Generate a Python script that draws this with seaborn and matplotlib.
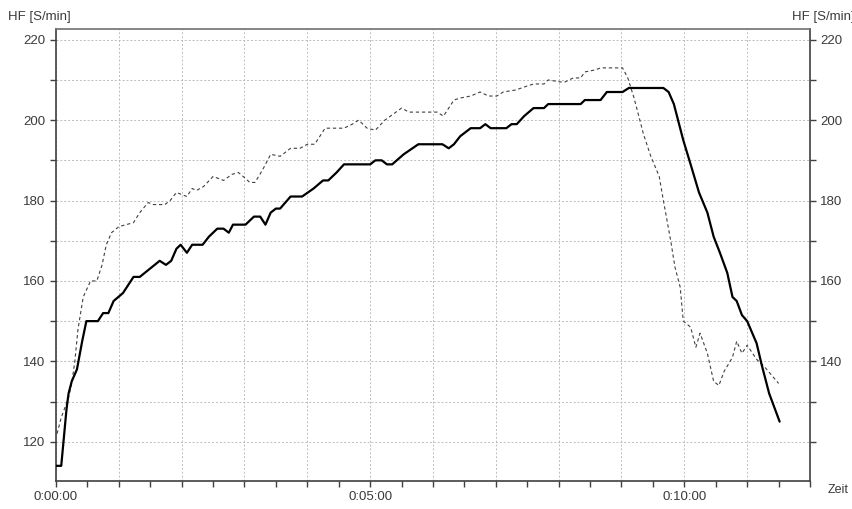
import pandas as pd
import seaborn as sns
import matplotlib.pyplot as plt
from matplotlib.ticker import MultipleLocator, FuncFormatter

# time in seconds, heart rate in S/min
hf_solid_t = [0, 5, 10, 12, 15, 20, 25, 29, 40, 45, 50, 55, 64, 74, 80, 99, 105, 110,
              115, 119, 125, 130, 140, 146, 154, 160, 165, 169, 181, 189, 195, 200, 205,
              210, 214, 224, 235, 246, 255, 260, 268, 275, 300, 305, 311, 316, 321, 332,
              346, 369, 375, 380, 386, 396, 405, 410, 415, 430, 435, 440, 447, 456, 466,
              470, 501, 505, 520, 526, 541, 547, 580, 585, 590, 595, 599, 606, 614, 622,
              628, 634, 641, 646, 650, 655, 660, 669, 674, 681, 691]
hf_solid = [114, 114, 128, 132, 135, 138, 145, 150, 150, 152, 152, 155, 157, 161, 161,
            165, 164, 165, 168, 169, 167, 169, 169, 171, 173, 173, 172, 174, 174, 176,
            176, 174, 177, 178, 178, 181, 181, 183, 185, 185, 187, 189, 189, 190, 190,
            189, 189, 191.5, 194, 194, 193, 194, 196, 198, 198, 199, 198, 198, 199, 199,
            201, 203, 203, 204, 204, 205, 205, 207, 207, 208, 208, 207, 204, 199, 195,
            189, 182, 177, 171, 167, 162, 156, 155, 151.5, 150, 144.5, 139, 132, 125]

hf_dashed_t = [1, 5, 12, 15, 18, 21, 26, 33, 39, 44, 48, 53, 60, 74, 80, 88, 93, 104,
               109, 115, 120, 125, 130, 134, 141, 150, 160, 168, 174, 181, 185, 190, 197,
               205, 214, 224, 233, 240, 247, 257, 275, 283, 289, 297, 305, 314, 322, 330,
               337, 348, 364, 370, 380, 386, 396, 405, 413, 421, 427, 439, 450, 456, 466,
               470, 482, 486, 494, 501, 505, 515, 520, 541, 546, 552, 561, 568, 576, 580,
               587, 591, 596, 599, 606, 611, 615, 622, 628, 633, 638, 646, 650, 655, 660,
               669, 677, 690]
hf_dashed = [122, 126, 131, 134.5, 140, 148, 156, 160, 160, 164, 169, 172, 173.5, 174.5,
             177, 179.5, 179, 179, 180, 182, 181.5, 181, 183, 182.5, 183.5, 186, 185, 186.5,
             187, 185.5, 184.5, 184.5, 187.5, 191.5, 191, 193, 193, 194, 194, 198, 198,
             199, 200, 198, 197.5, 200, 201.5, 203, 202, 202, 202, 201, 205, 205.5, 206,
             207, 206, 206, 207, 207.5, 208.5, 209, 209, 210, 209.5, 209.5, 210.5, 210.5,
             212, 212.5, 213, 213, 210.5, 205.5, 196.5, 191, 186, 180, 170, 163.5, 158.5,
             150, 148.5, 143.5, 147, 142, 135, 134, 137.5, 141, 145, 142, 144, 140.5, 138.5,
             134.5]

time_labels = {0: "0:00:00", 300: "0:05:00", 600: "0:10:00"}


def main():
    sns.set_style("white")
    plt.rcParams["font.family"] = ["Liberation Sans", "DejaVu Sans"]
    txt = "#3a3a3a"
    spine = "#404040"

    fig = plt.figure(figsize=(8.53, 5.09), dpi=100)
    ax = fig.add_axes([56 / 853, 1 - 480.7 / 509, (810 - 56) / 853, (480.7 - 29.3) / 509])

    solid = pd.DataFrame({"t": hf_solid_t, "hf": hf_solid})
    dashed = pd.DataFrame({"t": hf_dashed_t, "hf": hf_dashed})

    sns.lineplot(data=dashed, x="t", y="hf", ax=ax, color="#404040", linewidth=0.8,
                 linestyle=(0, (3, 2.5)), zorder=3)
    sns.lineplot(data=solid, x="t", y="hf", ax=ax, color="black", linewidth=1.6, zorder=4)

    ax.set_xlim(0, 720)
    ax.set_ylim(110.3, 222.6)
    ax.set_xlabel("")
    ax.set_ylabel("")

    ax.xaxis.set_major_locator(MultipleLocator(60))
    ax.xaxis.set_minor_locator(MultipleLocator(30))
    ax.xaxis.set_major_formatter(FuncFormatter(lambda v, p: time_labels.get(int(round(v)), "")))
    ax.yaxis.set_major_locator(MultipleLocator(10))
    ax.yaxis.set_major_formatter(
        FuncFormatter(lambda v, p: f"{int(round(v))}" if int(round(v)) % 20 == 0 else ""))

    ax.tick_params(axis="both", which="both", direction="out", length=4.5, width=1,
                   color=spine, labelsize=9.5, labelcolor=txt, pad=3,
                   bottom=True, left=True, top=False, right=False)

    ax.grid(True, which="major", color="#bcbcbc", linestyle=(0, (2, 2)), linewidth=0.7)
    ax.set_axisbelow(True)

    for side in ["left", "bottom", "right"]:
        ax.spines[side].set_color(spine)
        ax.spines[side].set_linewidth(1.2)
    ax.spines["top"].set_color("#707070")
    ax.spines["top"].set_linewidth(1.2)

    ax2 = ax.twinx()
    ax2.set_ylim(ax.get_ylim())
    ax2.yaxis.set_major_locator(MultipleLocator(10))
    ax2.yaxis.set_major_formatter(
        FuncFormatter(lambda v, p: f"{int(round(v))}"
                      if int(round(v)) % 20 == 0 and v > 130 else ""))
    ax2.tick_params(axis="y", direction="out", length=4.5, width=1, color=spine,
                    labelsize=9.5, labelcolor=txt, pad=3, right=True, left=False)
    for s in ax2.spines.values():
        s.set_visible(False)

    fig.text(8 / 853, 1 - 17 / 509, "HF [S/min]", fontsize=9.5, color=txt,
             ha="left", va="center")
    fig.text(792 / 853, 1 - 17 / 509, "HF [S/min]", fontsize=9.5, color=txt,
             ha="left", va="center")
    fig.text(828 / 853, 1 - 490 / 509, "Zeit", fontsize=9, color=txt,
             ha="left", va="center")

    fig.savefig("out.png", dpi=100)


if __name__ == "__main__":
    main()
